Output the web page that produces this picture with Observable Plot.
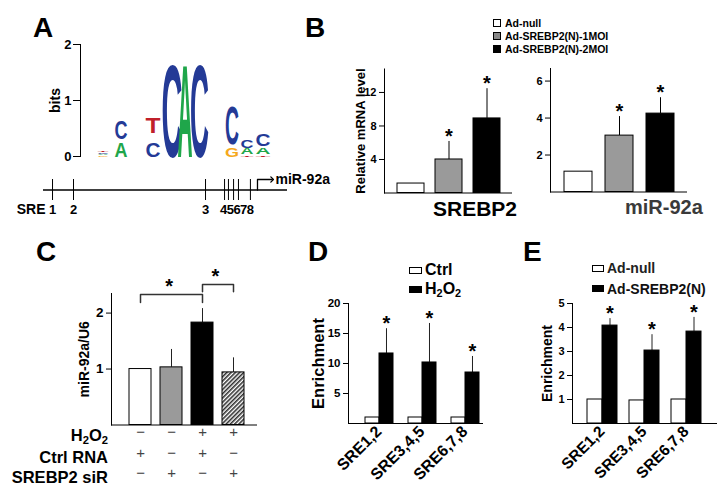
<!DOCTYPE html>
<html><head><meta charset="utf-8">
<script src="https://cdn.jsdelivr.net/npm/d3@7"></script>
<script src="https://cdn.jsdelivr.net/npm/@observablehq/plot@0.6"></script>
<style>
html,body{margin:0;padding:0;background:#fff;}
#fig{position:relative;width:721px;height:492px;overflow:hidden;background:#fff;font-family:"Liberation Sans",Arial,Helvetica,sans-serif;font-weight:bold;color:#000;}
#fig svg.layer{position:absolute;left:0;top:0;pointer-events:none;}
.lbl{position:absolute;white-space:nowrap;line-height:1;}
.lbl sub{font-size:0.68em;vertical-align:-0.3em;line-height:0;}
.sw{position:absolute;box-sizing:border-box;border:1px solid #000;}
</style></head>
<body>
<div id="fig"></div>
<svg width="0" height="0" style="position:absolute"><defs>
<pattern id="hatch" patternUnits="userSpaceOnUse" width="3" height="3" patternTransform="rotate(45)">
<rect width="3" height="3" fill="#fff"/><line x1="0.8" y1="0" x2="0.8" y2="3" stroke="#222" stroke-width="1.5"/>
</pattern></defs></svg>
<script>
// ---------------- DATA ----------------
// Panel A: sequence logo (one entry per letter)
const logoLetter = ["G","A","C","T", "A","C", "C","T", "C", "A", "C", "G","C", "T","A","C", "T","A","C"];
const logoPos    = [1,1,1,1, 2,2, 3,3, 4, 5, 6, 7,7, 8,8,8, 9,9,9];
const logoLow    = [0,0.025,0.05,0.08, 0,0.31, 0,0.42, 0, 0, 0, 0,0.22, 0,0.04,0.16, 0,0.04,0.19];
const logoHigh   = [0.025,0.05,0.08,0.11, 0.27,0.64, 0.25,0.70, 1.70, 1.70, 1.70, 0.17,0.90, 0.03,0.15,0.29, 0.03,0.15,0.40];
const logoColX   = [1.13, 2.03, 3.63, 4.58, 5.22, 5.95, 7.58, 8.33, 9.13]; // column centres (logo units)
const bitsTicks  = [0, 1, 2];
// Panel A: promoter diagram
const sreName    = ["1","2","3","4","5","6","7","8"];
const sreTick    = [3.7, 12.3, 66.4, 74.2, 75.8, 77.9, 79.9, 84.8];
const sreLabelAt = [3.7, 12.3, 66.4, 73.8, 76.55, 79.3, 82.05, 84.8];
const tssPos     = 87.7;
const geneName   = "miR-92a";
// Panel B
const bGroups    = ["Ad-null", "Ad-SREBP2(N)-1MOI", "Ad-SREBP2(N)-2MOI"];
const bSrebp2    = [1.13, 4.0, 8.9];
const bSrebp2Err = [0, 2.15, 3.55];
const bMir92a    = [1.1, 3.05, 4.24];
const bMir92aErr = [0, 1.03, 0.86];
const bSig       = [false, true, true];
const bTicksL    = [4, 8, 12];
const bTicksR    = [2, 4, 6];
// Panel C
const cConds     = ["c1", "c2", "c3", "c4"];
const cValue     = [1.0, 1.03, 1.83, 0.94];
const cErr       = [0, 0.32, 0.25, 0.26];
const cH2O2      = ["−", "−", "+", "+"];
const cCtrlRNA   = ["+", "−", "+", "−"];
const cSiR       = ["−", "+", "−", "+"];
const cBrackets  = [{from: 0, to: 2, y: 2.33, leg: 2.19}, {from: 2, to: 3, y: 2.51, leg: 2.38}];
const cTicks     = [1, 2];
// Panel D
const sreGroups  = ["SRE1,2", "SRE3,4,5", "SRE6,7,8"];
const dCtrl      = [1, 1, 1];
const dH2O2      = [11.67, 10.17, 8.5];
const dH2O2Err   = [4.13, 6.5, 2.67];
const dTicks     = [5, 10, 15, 20];
// Panel E
const eNull      = [1.0, 0.96, 1.0];
const eSrebp2    = [4.08, 3.04, 3.83];
const eSrebp2Err = [0.29, 0.66, 0.59];
const eTicks     = [1, 2, 3, 4, 5];

// ---------------- STYLE ----------------
const W = 721, H = 492;
const FONT = '"Liberation Sans", Arial, Helvetica, sans-serif';
const letterColor = {A: "#1fa64a", C: "#243a96", G: "#f5a81c", T: "#c0202a"};
const colWidthPx = [11, 13, 15, 21, 15, 19, 14, 13, 15];
const bFill = ["#fff", "#9a9a9a", "#000"];
const cFill = ["#fff", "#9a9a9a", "#000", "url(#hatch)"];
const fig = document.getElementById("fig");
const fmt = d => String(d);

function frame(x0, x1, y0, y1) {
  return {width: W, height: H, marginLeft: x0, marginRight: W - x1, marginTop: y0, marginBottom: H - y1,
    style: {fontFamily: FONT, fontWeight: "bold", fontSize: "11px", background: "none", overflow: "visible"}};
}
function add(p) { p.classList.add("layer"); fig.appendChild(p); return p; }
function bandwidth(r, n, p) { return (r[1] - r[0]) * (1 - p) / (n - p); }
function label(html, x, y, {size = 12, anchor = "start", weight = "bold", color = "#000"} = {}) {
  const el = document.createElement("div");
  el.className = "lbl"; el.innerHTML = html;
  Object.assign(el.style, {left: x + "px", top: y + "px", fontSize: size + "px", fontWeight: weight, color});
  const tx = anchor === "start" ? "0" : anchor === "middle" ? "-50%" : "-100%";
  el.style.transform = `translate(${tx},-50%)`;
  fig.appendChild(el);
}
function swatch(x, y, w, h, fill) {
  const el = document.createElement("div");
  el.className = "sw";
  Object.assign(el.style, {left: x + "px", top: y + "px", width: w + "px", height: h + "px", background: fill});
  fig.appendChild(el);
}
const yAxis = (ticks, size, opts = {}) => Plot.axisY({ticks, tickSize: 5, tickPadding: 3, fontSize: size, label: null, tickFormat: fmt, ...opts});
// vertical axis title, centred on the frame, dx shifts it left of the axis
const yTitle = (t, off, size) => Plot.text([t], {frameAnchor: "left", textAnchor: "middle", rotate: -90, dx: off, fontSize: size, text: d => d});
const star = (data, opts) => Plot.text(data, {text: () => "*", fontSize: 20, dy: -5, ...opts});

// ---------------- PANEL A: logo ----------------
const logo = logoLetter.map((L, i) => ({L, col: logoColX[logoPos[i] - 1], w: colWidthPx[logoPos[i] - 1], lo: logoLow[i], hi: logoHigh[i]}));
const logoPlot = add(Plot.plot({
  ...frame(80, 290, 44, 156),
  x: {domain: [0, 10.5], axis: null},
  y: {domain: [0, 2], label: null},
  color: {type: "identity"},
  marks: [
    Plot.axisY({ticks: bitsTicks, tickSize: 7, tickPadding: 2, fontSize: 13, label: null, tickFormat: fmt}),
    Plot.frame({anchor: "left"}),
    Plot.text(logo, {x: "col", y: "lo", text: "L", fill: d => letterColor[d.L], fontSize: 20}),
    yTitle("bits", -25, 14)
  ]
}));
{
  const xs = logoPlot.scale("x"), ys = logoPlot.scale("y");
  const g = d3.select(logoPlot).selectAll('g[aria-label="text"]').filter((_, i) => i === 0);
  g.selectAll("text").each(function(_, i) {
    const d = logo[i];
    if (!d) return;
    const adv = this.getComputedTextLength() || 14;
    const yb = ys.apply(d.lo), yt = ys.apply(d.hi);
    const sx = d.w / adv, sy = (yb - yt) / (0.72 * 20);
    this.removeAttribute("x"); this.removeAttribute("y"); this.removeAttribute("dy");
    this.setAttribute("transform", `translate(${xs.apply(d.col)},${yb}) scale(${sx},${sy})`);
  });
}

// ---------------- PANEL A: promoter ----------------
const sres = sreName.map((n, i) => ({n, t: sreTick[i], l: sreLabelAt[i]}));
add(Plot.plot({
  ...frame(43, 287, 179, 200),
  x: {domain: [0, 100], axis: null},
  y: {domain: [-1, 1], axis: null},
  marks: [
    Plot.ruleY([0], {stroke: "#000", strokeWidth: 1.3}),
    Plot.ruleX(sres, {x: "t", y1: -1, y2: 1, stroke: "#000"}),
    Plot.text(sres, {x: "l", y: -1, text: "n", dy: 9, fontSize: 13}),
    Plot.text(sres.slice(0, 1), {x: "t", y: -1, text: () => "SRE", dy: 9, dx: -7, textAnchor: "end", fontSize: 14}),
    Plot.line([[tssPos, 0], [tssPos, 1], [tssPos + 6, 1]], {stroke: "#000", strokeWidth: 1.3, markerEnd: "arrow"}),
    Plot.text([[tssPos, 1]], {text: () => geneName, dx: 18, textAnchor: "start", fontSize: 14})
  ]
}));

// ---------------- PANEL B ----------------
function panelB(x0, x1, y0, y1, yMax, range, pad, vals, errs, ticks, title) {
  const bw = bandwidth(range, 3, pad);
  const data = bGroups.map((g, i) => ({g, v: vals[i], e: errs[i], s: bSig[i], f: bFill[i]}));
  const err = data.filter(d => d.e > 0);
  return add(Plot.plot({
    ...frame(x0, x1, y0, y1),
    x: {domain: bGroups, range, paddingInner: pad, paddingOuter: 0, axis: null},
    y: {domain: [0, yMax], label: null},
    color: {type: "identity"},
    marks: [
      Plot.ruleX(err, {x: "g", y1: "v", y2: d => d.v + d.e, stroke: "#000"}),
      Plot.ruleY(err, {x: "g", y: d => d.v + d.e, insetLeft: (bw - 9) / 2, insetRight: (bw - 9) / 2, stroke: "#000"}),
      Plot.barY(data, {x: "g", y: "v", fill: "f", stroke: "#000", strokeWidth: 1}),
      star(data.filter(d => d.s), {x: "g", y: d => d.v + d.e}),
      yAxis(ticks, 11),
      Plot.frame({anchor: "left"}),
      Plot.ruleY([0]),
      ...(title ? [yTitle(title, -24, 13)] : [])
    ]
  }));
}
panelB(384, 512, 68.5, 192.5, 14.8, [397, 500], 0.3, bSrebp2, bSrebp2Err, bTicksL, "Relative mRNA level");
panelB(550, 687, 68, 191.5, 6.68, [563, 674], 0.32, bMir92a, bMir92aErr, bTicksR, null);
label("SREBP2", 433, 208, {size: 21});
label("miR-92a", 625, 207, {size: 20, color: "#3a3a3a"});
swatch(493, 19, 8, 8, "#fff"); label("Ad-null", 505, 23, {size: 10.5});
swatch(493, 32, 8, 8, "#888"); label("Ad-SREBP2(N)-1MOI", 505, 36, {size: 10.5});
swatch(493, 45, 8, 8, "#000"); label("Ad-SREBP2(N)-2MOI", 505, 49, {size: 10.5});

// ---------------- PANEL C ----------------
{
  const range = [128, 245], pad = 0.3, bw = bandwidth(range, 4, pad), step = bw / (1 - pad);
  const data = cConds.map((c, i) => ({c, v: cValue[i], e: cErr[i], f: cFill[i], h: cH2O2[i], r: cCtrlRNA[i], s: cSiR[i]}));
  const err = data.filter(d => d.e > 0);
  const bracketPts = cBrackets.flatMap((b, k) => [
    {k, x: cConds[b.from], y: b.leg}, {k, x: cConds[b.from], y: b.y},
    {k, x: cConds[b.to], y: b.y}, {k, x: cConds[b.to], y: b.leg}]);
  add(Plot.plot({
    ...frame(111, 257, 293, 424.5),
    x: {domain: cConds, range, paddingInner: pad, paddingOuter: 0, axis: null},
    y: {domain: [0, 2.35], label: null},
    color: {type: "identity"},
    marks: [
      Plot.ruleX(err, {x: "c", y1: "v", y2: d => d.v + d.e, stroke: "#222"}),
      Plot.ruleY(err, {x: "c", y: d => d.v + d.e, insetLeft: (bw - 9) / 2, insetRight: (bw - 9) / 2, stroke: "#222"}),
      Plot.barY(data, {x: "c", y: "v", fill: "f", stroke: "#000"}),
      Plot.line(bracketPts, {x: "x", y: "y", z: "k", stroke: "#333"}),
      ...cBrackets.map(b => star([b], {x: () => cConds[b.from], y: "y", dx: (b.to - b.from) * step / 2 - 3, dy: -8})),
      yAxis(cTicks, 13.5),
      Plot.frame({anchor: "left"}),
      Plot.ruleY([0]),
      yTitle("miR-92a/U6", -27, 14),
      Plot.text(data, {x: "c", text: "h", frameAnchor: "bottom", dy: 11.5, fontSize: 15, fontWeight: "normal", fill: "#444"}),
      Plot.text(data, {x: "c", text: "r", frameAnchor: "bottom", dy: 32.5, fontSize: 15, fontWeight: "normal", fill: "#444"}),
      Plot.text(data, {x: "c", text: "s", frameAnchor: "bottom", dy: 52.5, fontSize: 15, fontWeight: "normal", fill: "#444"})
    ]
  }));
  label("H<sub>2</sub>O<sub>2</sub>", 108, 435, {size: 16.5, anchor: "end"});
  label("Ctrl RNA", 108, 457, {size: 16.5, anchor: "end"});
  label("SREBP2 siR", 108, 477, {size: 16.5, anchor: "end"});
}

// ---------------- PANELS D & E ----------------
function panelGrouped(x0, x1, y0, y1, yMax, range, pad, a, b, bErr, ticks, tickSize, titleSize, titleOff, xlSize) {
  const bw = bandwidth(range, 3, pad), half = bw / 2, q = bw / 4;
  const data = sreGroups.map((g, i) => ({g, a: a[i], v: b[i], e: bErr[i]}));
  return add(Plot.plot({
    ...frame(x0, x1, y0, y1),
    x: {domain: sreGroups, range, paddingInner: pad, paddingOuter: 0, axis: null},
    y: {domain: [0, yMax], label: null},
    marks: [
      Plot.ruleX(data, {x: "g", y1: "v", y2: d => d.v + d.e, dx: q, stroke: "#222"}),
      Plot.ruleY(data, {x: "g", y: d => d.v + d.e, insetLeft: 3 * q - 4, insetRight: q - 4, stroke: "#222"}),
      Plot.barY(data, {x: "g", y: "a", fill: "#fff", stroke: "#000", insetRight: half}),
      Plot.barY(data, {x: "g", y: "v", fill: "#000", stroke: "#000", insetLeft: half}),
      star(data, {x: "g", y: d => d.v + d.e, dx: q}),
      yAxis(ticks, tickSize),
      Plot.frame({anchor: "left"}),
      Plot.ruleY([0]),
      yTitle("Enrichment", titleOff, titleSize),
      Plot.text(sreGroups, {x: d => d, text: d => d, frameAnchor: "bottom", rotate: -45, textAnchor: "end", dx: 3, dy: 9, fontSize: xlSize})
    ]
  }));
}
panelGrouped(348, 483, 303, 423, 20, [365, 479], 0.349, dCtrl, dH2O2, dH2O2Err, dTicks, 11.5, 16.5, -30, 16);
panelGrouped(572, 717, 303, 423, 5, [586, 701], 0.294, eNull, eSrebp2, eSrebp2Err, eTicks, 11, 14, -25, 15.5);
swatch(409, 267, 13, 7, "#fff"); label("Ctrl", 425, 270, {size: 16});
swatch(409, 286, 13, 7, "#000"); label("H<sub>2</sub>O<sub>2</sub>", 425, 289, {size: 16});
swatch(592, 265, 12, 7, "#fff"); label("Ad-null", 607, 268, {size: 14, color: "#222"});
swatch(592, 285, 12, 7, "#000"); label("Ad-SREBP2(N)", 607, 289, {size: 14, color: "#111"});

// ---------------- panel letters ----------------
label("A", 33, 28, {size: 28});
label("B", 305, 28, {size: 28});
label("C", 36, 252, {size: 28});
label("D", 308, 252, {size: 28});
label("E", 523, 252, {size: 28});
</script>
</body></html>
